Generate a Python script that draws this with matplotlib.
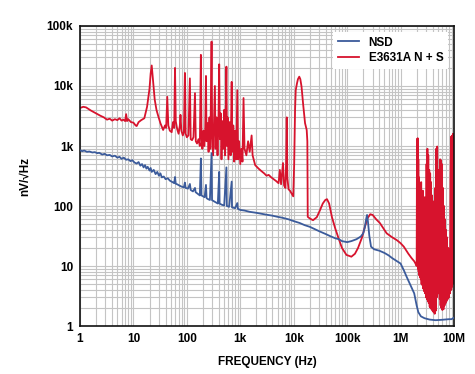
import numpy as np
import matplotlib
matplotlib.use('Agg')
from matplotlib import pyplot as plt
from matplotlib.ticker import FixedLocator, LogLocator, NullFormatter

plt.rcParams['font.family'] = ['Liberation Sans', 'DejaVu Sans']
plt.rcParams['font.weight'] = 'bold'

# NSD trace (blue), frequency in Hz, value in nV/rtHz
nsd_freq = [1, 1.1, 1.2, 1.35, 1.5, 1.7, 1.9, 2.1, 2.3, 2.6, 2.9, 3.2, 3.6, 4.0, 4.5,
            5.0, 5.5, 6.0, 6.6, 7.3, 8.0, 8.8, 9.5, 10.5, 11.5, 12.5, 13.5, 14.5, 15.5,
            16.5, 17.5, 18.5, 20, 21, 22, 24, 26, 28, 30, 32, 34, 37, 40, 44, 48, 52, 56,
            58, 60, 62, 66, 72, 80, 88, 92, 95, 105, 114, 118, 130, 142, 146, 160, 175,
            183, 188, 200, 215, 228, 234, 250, 270, 290, 296, 320, 350, 380, 403, 410,
            450, 500, 550, 560, 620, 690, 700, 800, 880, 900, 1000, 1200, 1500, 2000,
            3000, 4000, 5000, 6000, 8000, 10000, 13000, 16000, 20000, 25000, 30000,
            40000, 50000, 60000, 70000, 80000, 100000, 120000, 150000, 180000, 200000,
            215000, 228000, 236000, 245000, 260000, 280000, 320000, 400000, 500000,
            600000, 700000, 800000, 1000000, 1150000, 1300000, 1500000, 1800000,
            2000000, 2150000, 2400000, 2800000, 3500000, 4500000, 6000000, 8000000,
            9000000, 10000000]
nsd_val = [850, 820, 840, 800, 810, 780, 790, 760, 770, 720, 740, 700, 710, 670, 690,
           640, 660, 610, 640, 590, 600, 560, 580, 530, 510, 540, 470, 500, 440,
           480, 420, 450, 390, 430, 370, 400, 340, 370, 320, 350, 300, 310, 280, 290, 265, 255, 245,
           240, 305, 235, 230, 220, 210, 205, 245, 200, 195, 233, 185, 175, 200, 170, 160, 150,
           620, 150, 145, 140, 225, 135, 130, 126, 760, 125, 120, 115, 110, 370, 110,
           105, 102, 440, 100, 97, 255, 95, 92, 112, 90, 86, 84, 80, 77,
           72, 69, 66, 64, 60, 56, 52, 48, 45, 41, 38,
           34, 31, 29, 28, 26, 25, 26, 28, 31, 35,
           45, 62, 71, 55, 32, 21, 19, 18, 16.5,
           15, 13.5, 12.5, 11, 8.5, 6.6, 5, 3.5,
           2.2, 1.7, 1.45, 1.35, 1.28, 1.25, 1.27, 1.3,
           1.3, 1.38]

# E3631A noise + spurs (red)
sup_freq = [1, 1.15, 1.3, 1.6, 2, 2.4, 2.8, 3.2, 3.6, 4, 4.5, 5, 5.5, 6, 6.5, 7, 7.3, 7.6,
            8, 9, 10, 11, 11.5, 12.5, 14, 16, 18, 20, 21, 22, 23, 25, 27, 29, 32, 36, 39,
            41, 43, 45, 48, 52, 55, 58, 60, 62, 66, 70, 74, 76, 79, 84, 88, 92, 95, 100,
            107, 114, 118, 125, 133, 142, 147, 155, 165, 175, 183, 188, 195, 205, 212,
            220, 228, 234, 245, 255, 265, 275, 290, 298, 310, 322, 335, 345, 360, 375,
            390, 403, 415, 430, 445, 460, 480, 500, 520, 550, 565, 580, 600, 630, 660,
            690, 710, 740, 770, 800, 840, 880, 910, 950, 1000, 1050, 1100, 1150, 1200,
            1300, 1400, 1500, 1630, 1700, 1900, 2200, 2500, 2800, 3100, 3400, 3800, 4200,
            4700, 5200, 5500, 5800, 6300, 6600, 7000, 7200, 7400, 7600, 8000, 8500, 9000,
            9800, 10200, 10600, 10900, 11500, 12000, 12700, 13300, 14000, 15000, 16300,
            17500, 18000, 18300, 20000, 23000, 27000, 31000, 35000, 39000, 42000, 46000,
            52000, 60000, 70000, 80000, 97000, 120000, 140000, 160000, 190000, 215000,
            240000, 270000, 300000, 350000, 410000, 480000, 550000, 700000, 850000,
            1000000, 1150000, 1400000, 1600000, 1800000, 1900000,
            2.00e6, 2.03e6, 2.06e6, 2.09e6, 2.12e6, 2.15e6, 2.18e6, 2.21e6, 2.24e6,
            2.27e6, 2.31e6, 2.35e6, 2.39e6, 2.43e6, 2.47e6, 2.51e6, 2.56e6, 2.61e6,
            2.66e6, 2.71e6, 2.76e6, 2.82e6, 2.88e6, 2.94e6, 3.00e6, 3.06e6, 3.12e6,
            3.18e6, 3.24e6, 3.30e6, 3.37e6, 3.44e6, 3.51e6, 3.58e6, 3.65e6, 3.72e6,
            3.80e6, 3.88e6, 3.96e6, 4.05e6, 4.15e6, 4.25e6, 4.35e6, 4.45e6, 4.55e6,
            4.65e6, 4.75e6, 4.85e6, 4.95e6, 5.05e6, 5.15e6, 5.30e6, 5.40e6, 5.50e6,
            5.60e6, 5.70e6, 5.80e6, 5.95e6, 6.05e6, 6.20e6, 6.35e6, 6.50e6, 6.65e6,
            6.80e6, 6.95e6, 7.10e6, 7.25e6, 7.40e6, 7.60e6, 7.80e6, 8.00e6, 8.20e6,
            8.40e6, 8.60e6, 8.80e6, 8.90e6, 9.00e6, 9.15e6, 9.30e6, 9.45e6, 9.60e6,
            9.75e6, 9.90e6, 10.0e6]
sup_val = [4300, 4500, 4400, 3900, 3500, 3200, 3000, 2750, 2850, 2650, 2800, 2700, 2900, 2650, 2750, 2600, 3400, 2600,
           2800, 2500, 2450, 2200, 2150, 2500, 2700, 2900, 4500, 9000, 16000, 22000, 14000, 6000, 4000, 3200, 2400, 1850, 2200,
           2000, 6600, 2200, 1800, 1700, 2500, 2000, 20000, 2600, 1900, 1600, 2200, 3300, 1800, 1500, 1700, 16500, 1600, 1400,
           1500, 13400, 1300, 1250, 1400, 7600, 1200, 1100, 1300, 1000, 33000, 1500, 900, 1800, 1000,
           1600, 14700, 1200, 2400, 800, 3000, 900, 55000, 1400, 700, 2800, 10000, 900, 3000, 700,
           2500, 23000, 1300, 3500, 600, 2600, 900, 4000, 700, 21000, 1000, 3000, 600, 2500, 700,
           11700, 800, 2200, 550, 1800, 600, 8500, 600, 1200, 500, 900, 550, 6300, 900,
           700, 1200, 800, 1500, 700, 480, 420, 380, 350, 320, 330, 300, 280,
           260, 240, 400, 230, 520, 220, 200, 500, 3000, 300, 190, 180, 165,
           145, 500, 4000, 8500, 11000, 13000, 14300, 13000, 9800, 5000, 2400,
           1850, 1200, 66, 62, 58, 65, 85, 110, 126, 130, 110,
           65, 42, 28, 20, 15.3, 14.3, 16, 20, 30, 45,
           62, 73, 71, 60, 52, 42, 35, 30, 27,
           24, 21, 16, 13.6, 12, 11,
           10, 1300, 14, 1350, 9, 600, 8, 300, 7,
           200, 6.5, 150, 6, 250, 5, 120, 4.8, 180,
           4.2, 90, 3.8, 140, 3.5, 100, 3, 500, 2.8,
           900, 2.6, 700, 2.4, 400, 2.1, 350, 2.0, 250,
           1.9, 150, 1.8, 120, 1.7, 80, 1.6, 200, 1.8,
           900, 3, 980, 4, 400, 3.5, 300, 2.8, 600,
           2.2, 580, 2, 500, 1.85, 200, 1.9, 100, 2.2,
           60, 2.4, 40, 2.6, 30, 2.8, 20, 3, 15,
           3.5, 300, 1400, 4, 1450, 4.5, 1500, 5, 1600,
           6, 1500, 1500]

x_ticks = [1, 10, 100, 1e3, 1e4, 1e5, 1e6, 1e7]
x_labels = ['1', '10', '100', '1k', '10k', '100k', '1M', '10M']
y_ticks = [1, 10, 100, 1e3, 1e4, 1e5]
y_labels = ['1', '10', '100', '1k', '10k', '100k']

fig = plt.figure(figsize=(4.75, 3.74), dpi=100)
ax = fig.add_axes([0.1684, 0.1283, 0.7874, 0.8022])

ax.plot(nsd_freq, nsd_val, color='#3b5b9b', lw=1.3, label='NSD', zorder=3)
ax.plot(sup_freq, sup_val, color='#d7132d', lw=1.3, label='E3631A N + S', zorder=2)

ax.set_xscale('log')
ax.set_yscale('log')
ax.set_xlim(1, 1e7)
ax.set_ylim(1, 1e5)

ax.xaxis.set_major_locator(FixedLocator(x_ticks))
ax.set_xticklabels(x_labels)
ax.yaxis.set_major_locator(FixedLocator(y_ticks))
ax.set_yticklabels(y_labels)
ax.xaxis.set_minor_locator(LogLocator(base=10, subs=np.arange(2, 10), numticks=20))
ax.yaxis.set_minor_locator(LogLocator(base=10, subs=np.arange(2, 10), numticks=20))
ax.xaxis.set_minor_formatter(NullFormatter())
ax.yaxis.set_minor_formatter(NullFormatter())

ax.grid(True, which='both', color='#c4c4c4', lw=0.8)
ax.set_axisbelow(True)
ax.tick_params(which='both', length=0, labelsize=8.5, pad=5)
for s in ax.spines.values():
    s.set_linewidth(1.2)
    s.set_color('#111111')

ax.set_xlabel('FREQUENCY (Hz)', fontsize=8.5, fontweight='bold', labelpad=8)
ax.set_ylabel('nV/√Hz', fontsize=8.5, fontweight='bold', labelpad=11)

leg = ax.legend(loc='upper right', fontsize=8.5, frameon=True, fancybox=False,
                handlelength=1.8, borderaxespad=0.5, labelspacing=0.3)
leg.get_frame().set_edgecolor('none')
leg.get_frame().set_facecolor('white')
leg.get_frame().set_alpha(1)
for t in leg.get_texts():
    t.set_fontweight('bold')

fig.savefig('out.png', dpi=100)
